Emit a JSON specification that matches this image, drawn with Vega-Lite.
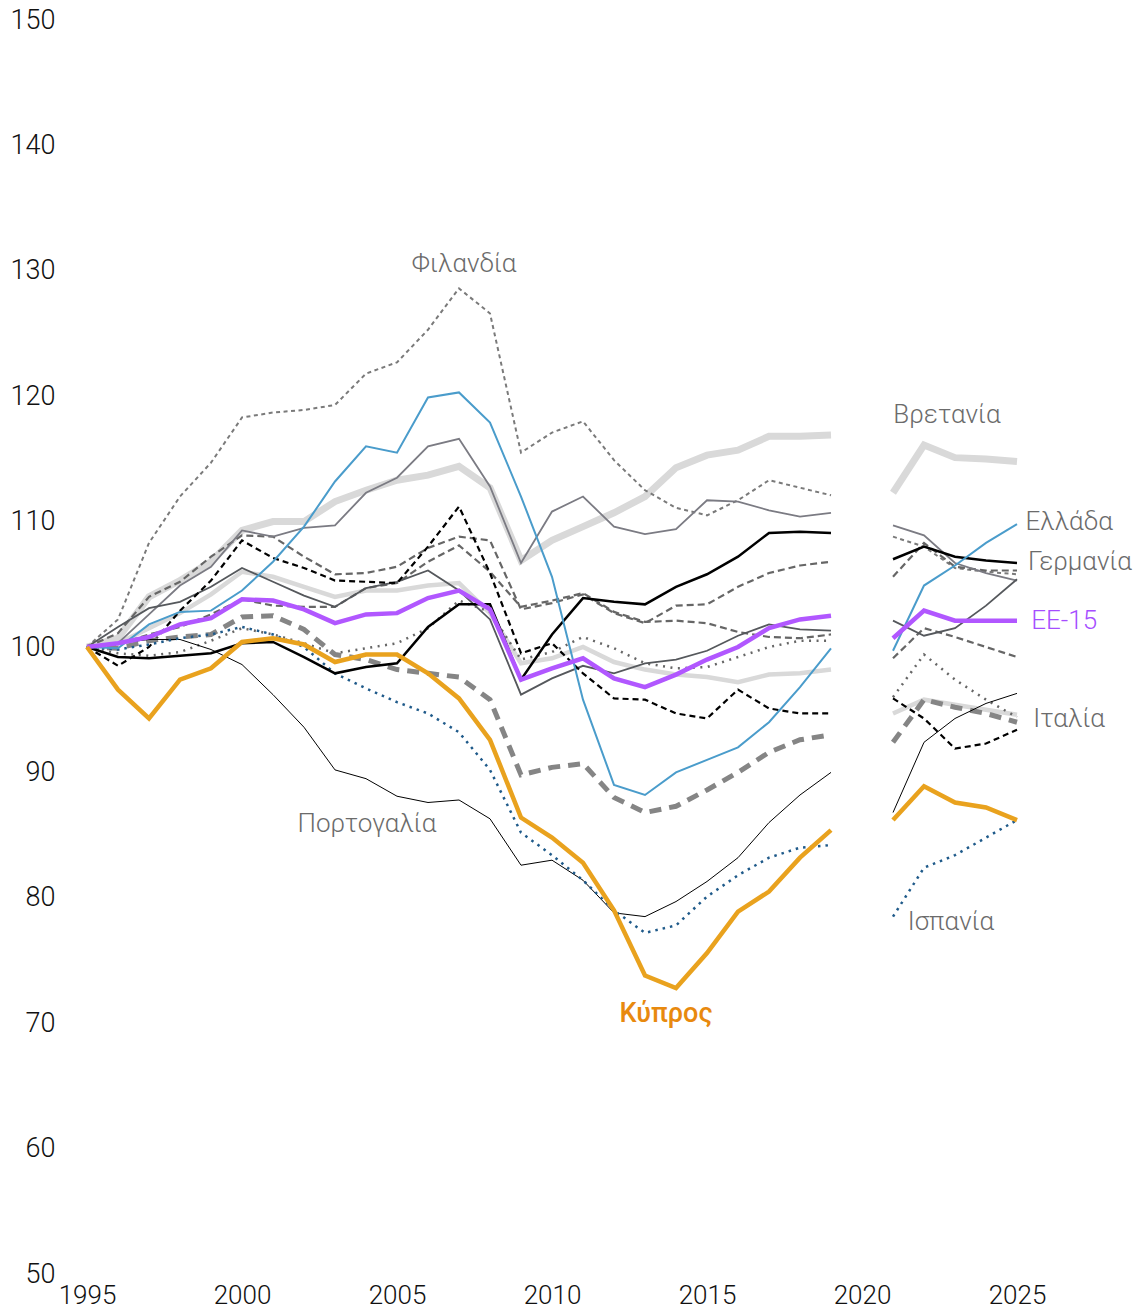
{
"$schema":"https://vega.github.io/schema/vega-lite/v6.json",
"autosize":{"type":"none"},
"padding":{"left":87,"top":20,"right":0,"bottom":38},
"width":1054,"height":1254,
"background":"white",
"config":{"view":{"stroke":null},"axis":{"domain":false,"ticks":false,"tickSize":0,"grid":false,"labelFont":"Roboto","labelFontWeight":300,"labelFontSize":27,"labelColor":"#111","labelFlush":false,"labelOverlap":false,"title":null}},
"datasets":{
"lines":[
{"c":"CY","p":1,"t":1995,"v":100},{"c":"CY","p":1,"t":1996,"v":96.6},{"c":"CY","p":1,"t":1997,"v":94.3},{"c":"CY","p":1,"t":1998,"v":97.4},{"c":"CY","p":1,"t":1999,"v":98.3},{"c":"CY","p":1,"t":2000,"v":100.4},{"c":"CY","p":1,"t":2001,"v":100.7},{"c":"CY","p":1,"t":2002,"v":100.2},{"c":"CY","p":1,"t":2003,"v":98.8},{"c":"CY","p":1,"t":2004,"v":99.4},{"c":"CY","p":1,"t":2005,"v":99.4},{"c":"CY","p":1,"t":2006,"v":97.9},{"c":"CY","p":1,"t":2007,"v":95.9},{"c":"CY","p":1,"t":2008,"v":92.6},{"c":"CY","p":1,"t":2009,"v":86.4},{"c":"CY","p":1,"t":2010,"v":84.8},{"c":"CY","p":1,"t":2011,"v":82.8},{"c":"CY","p":1,"t":2012,"v":79.0},{"c":"CY","p":1,"t":2013,"v":73.8},{"c":"CY","p":1,"t":2014,"v":72.8},{"c":"CY","p":1,"t":2015,"v":75.6},{"c":"CY","p":1,"t":2016,"v":78.9},{"c":"CY","p":1,"t":2017,"v":80.5},{"c":"CY","p":1,"t":2018,"v":83.2},{"c":"CY","p":1,"t":2019,"v":85.4},
{"c":"CY","p":2,"t":2021,"v":86.2},{"c":"CY","p":2,"t":2022,"v":88.9},{"c":"CY","p":2,"t":2023,"v":87.6},{"c":"CY","p":2,"t":2024,"v":87.2},{"c":"CY","p":2,"t":2025,"v":86.2},
{"c":"EU","p":1,"t":1995,"v":100},{"c":"EU","p":1,"t":1996,"v":100.3},{"c":"EU","p":1,"t":1997,"v":100.8},{"c":"EU","p":1,"t":1998,"v":101.8},{"c":"EU","p":1,"t":1999,"v":102.3},{"c":"EU","p":1,"t":2000,"v":103.8},{"c":"EU","p":1,"t":2001,"v":103.7},{"c":"EU","p":1,"t":2002,"v":103.0},{"c":"EU","p":1,"t":2003,"v":101.9},{"c":"EU","p":1,"t":2004,"v":102.6},{"c":"EU","p":1,"t":2005,"v":102.7},{"c":"EU","p":1,"t":2006,"v":103.9},{"c":"EU","p":1,"t":2007,"v":104.5},{"c":"EU","p":1,"t":2008,"v":103.0},{"c":"EU","p":1,"t":2009,"v":97.4},{"c":"EU","p":1,"t":2010,"v":98.3},{"c":"EU","p":1,"t":2011,"v":99.1},{"c":"EU","p":1,"t":2012,"v":97.5},{"c":"EU","p":1,"t":2013,"v":96.8},{"c":"EU","p":1,"t":2014,"v":97.8},{"c":"EU","p":1,"t":2015,"v":99.0},{"c":"EU","p":1,"t":2016,"v":100.0},{"c":"EU","p":1,"t":2017,"v":101.5},{"c":"EU","p":1,"t":2018,"v":102.2},{"c":"EU","p":1,"t":2019,"v":102.5},
{"c":"EU","p":2,"t":2021,"v":100.7},{"c":"EU","p":2,"t":2022,"v":102.9},{"c":"EU","p":2,"t":2023,"v":102.1},{"c":"EU","p":2,"t":2024,"v":102.1},{"c":"EU","p":2,"t":2025,"v":102.1},
{"c":"UK","p":1,"t":1995,"v":100},{"c":"UK","p":1,"t":1996,"v":100.7},{"c":"UK","p":1,"t":1997,"v":104.0},{"c":"UK","p":1,"t":1998,"v":105.3},{"c":"UK","p":1,"t":1999,"v":106.8},{"c":"UK","p":1,"t":2000,"v":109.3},{"c":"UK","p":1,"t":2001,"v":110.0},{"c":"UK","p":1,"t":2002,"v":110.0},{"c":"UK","p":1,"t":2003,"v":111.6},{"c":"UK","p":1,"t":2004,"v":112.5},{"c":"UK","p":1,"t":2005,"v":113.3},{"c":"UK","p":1,"t":2006,"v":113.7},{"c":"UK","p":1,"t":2007,"v":114.4},{"c":"UK","p":1,"t":2008,"v":112.7},{"c":"UK","p":1,"t":2009,"v":106.9},{"c":"UK","p":1,"t":2010,"v":108.5},{"c":"UK","p":1,"t":2011,"v":109.6},{"c":"UK","p":1,"t":2012,"v":110.7},{"c":"UK","p":1,"t":2013,"v":112.0},{"c":"UK","p":1,"t":2014,"v":114.3},{"c":"UK","p":1,"t":2015,"v":115.3},{"c":"UK","p":1,"t":2016,"v":115.7},{"c":"UK","p":1,"t":2017,"v":116.8},{"c":"UK","p":1,"t":2018,"v":116.8},{"c":"UK","p":1,"t":2019,"v":116.9},
{"c":"UK","p":2,"t":2021,"v":112.3},{"c":"UK","p":2,"t":2022,"v":116.1},{"c":"UK","p":2,"t":2023,"v":115.1},{"c":"UK","p":2,"t":2024,"v":115.0},{"c":"UK","p":2,"t":2025,"v":114.8},
{"c":"GR","p":1,"t":1995,"v":100},{"c":"GR","p":1,"t":1996,"v":99.9},{"c":"GR","p":1,"t":1997,"v":101.8},{"c":"GR","p":1,"t":1998,"v":102.8},{"c":"GR","p":1,"t":1999,"v":102.9},{"c":"GR","p":1,"t":2000,"v":104.5},{"c":"GR","p":1,"t":2001,"v":106.8},{"c":"GR","p":1,"t":2002,"v":109.6},{"c":"GR","p":1,"t":2003,"v":113.2},{"c":"GR","p":1,"t":2004,"v":116.0},{"c":"GR","p":1,"t":2005,"v":115.5},{"c":"GR","p":1,"t":2006,"v":119.9},{"c":"GR","p":1,"t":2007,"v":120.3},{"c":"GR","p":1,"t":2008,"v":117.9},{"c":"GR","p":1,"t":2009,"v":112.0},{"c":"GR","p":1,"t":2010,"v":105.6},{"c":"GR","p":1,"t":2011,"v":95.8},{"c":"GR","p":1,"t":2012,"v":89.0},{"c":"GR","p":1,"t":2013,"v":88.2},{"c":"GR","p":1,"t":2014,"v":90.0},{"c":"GR","p":1,"t":2015,"v":91.0},{"c":"GR","p":1,"t":2016,"v":92.0},{"c":"GR","p":1,"t":2017,"v":94.0},{"c":"GR","p":1,"t":2018,"v":96.8},{"c":"GR","p":1,"t":2019,"v":99.9},
{"c":"GR","p":2,"t":2021,"v":99.7},{"c":"GR","p":2,"t":2022,"v":104.9},{"c":"GR","p":2,"t":2023,"v":106.5},{"c":"GR","p":2,"t":2024,"v":108.3},{"c":"GR","p":2,"t":2025,"v":109.8},
{"c":"DE","p":1,"t":1995,"v":100},{"c":"DE","p":1,"t":1996,"v":99.2},{"c":"DE","p":1,"t":1997,"v":99.1},{"c":"DE","p":1,"t":1998,"v":99.3},{"c":"DE","p":1,"t":1999,"v":99.5},{"c":"DE","p":1,"t":2000,"v":100.3},{"c":"DE","p":1,"t":2001,"v":100.4},{"c":"DE","p":1,"t":2002,"v":99.2},{"c":"DE","p":1,"t":2003,"v":97.9},{"c":"DE","p":1,"t":2004,"v":98.4},{"c":"DE","p":1,"t":2005,"v":98.7},{"c":"DE","p":1,"t":2006,"v":101.6},{"c":"DE","p":1,"t":2007,"v":103.4},{"c":"DE","p":1,"t":2008,"v":103.4},{"c":"DE","p":1,"t":2009,"v":97.4},{"c":"DE","p":1,"t":2010,"v":101.0},{"c":"DE","p":1,"t":2011,"v":103.9},{"c":"DE","p":1,"t":2012,"v":103.6},{"c":"DE","p":1,"t":2013,"v":103.4},{"c":"DE","p":1,"t":2014,"v":104.8},{"c":"DE","p":1,"t":2015,"v":105.8},{"c":"DE","p":1,"t":2016,"v":107.2},{"c":"DE","p":1,"t":2017,"v":109.1},{"c":"DE","p":1,"t":2018,"v":109.2},{"c":"DE","p":1,"t":2019,"v":109.1},
{"c":"DE","p":2,"t":2021,"v":107.0},{"c":"DE","p":2,"t":2022,"v":108.0},{"c":"DE","p":2,"t":2023,"v":107.2},{"c":"DE","p":2,"t":2024,"v":106.9},{"c":"DE","p":2,"t":2025,"v":106.7},
{"c":"FI","p":1,"t":1995,"v":100},{"c":"FI","p":1,"t":1996,"v":102.2},{"c":"FI","p":1,"t":1997,"v":108.3},{"c":"FI","p":1,"t":1998,"v":112.0},{"c":"FI","p":1,"t":1999,"v":114.7},{"c":"FI","p":1,"t":2000,"v":118.3},{"c":"FI","p":1,"t":2001,"v":118.7},{"c":"FI","p":1,"t":2002,"v":118.9},{"c":"FI","p":1,"t":2003,"v":119.3},{"c":"FI","p":1,"t":2004,"v":121.8},{"c":"FI","p":1,"t":2005,"v":122.7},{"c":"FI","p":1,"t":2006,"v":125.3},{"c":"FI","p":1,"t":2007,"v":128.6},{"c":"FI","p":1,"t":2008,"v":126.6},{"c":"FI","p":1,"t":2009,"v":115.5},{"c":"FI","p":1,"t":2010,"v":117.1},{"c":"FI","p":1,"t":2011,"v":118.0},{"c":"FI","p":1,"t":2012,"v":114.9},{"c":"FI","p":1,"t":2013,"v":112.5},{"c":"FI","p":1,"t":2014,"v":111.1},{"c":"FI","p":1,"t":2015,"v":110.5},{"c":"FI","p":1,"t":2016,"v":111.7},{"c":"FI","p":1,"t":2017,"v":113.3},{"c":"FI","p":1,"t":2018,"v":112.7},{"c":"FI","p":1,"t":2019,"v":112.1},
{"c":"FI","p":2,"t":2021,"v":108.8},{"c":"FI","p":2,"t":2022,"v":108.0},{"c":"FI","p":2,"t":2023,"v":106.3},{"c":"FI","p":2,"t":2024,"v":106.0},{"c":"FI","p":2,"t":2025,"v":105.8},
{"c":"PT","p":1,"t":1995,"v":100},{"c":"PT","p":1,"t":1996,"v":100.3},{"c":"PT","p":1,"t":1997,"v":100.6},{"c":"PT","p":1,"t":1998,"v":100.6},{"c":"PT","p":1,"t":1999,"v":99.8},{"c":"PT","p":1,"t":2000,"v":98.6},{"c":"PT","p":1,"t":2001,"v":96.2},{"c":"PT","p":1,"t":2002,"v":93.6},{"c":"PT","p":1,"t":2003,"v":90.2},{"c":"PT","p":1,"t":2004,"v":89.5},{"c":"PT","p":1,"t":2005,"v":88.1},{"c":"PT","p":1,"t":2006,"v":87.6},{"c":"PT","p":1,"t":2007,"v":87.8},{"c":"PT","p":1,"t":2008,"v":86.3},{"c":"PT","p":1,"t":2009,"v":82.6},{"c":"PT","p":1,"t":2010,"v":83.0},{"c":"PT","p":1,"t":2011,"v":81.4},{"c":"PT","p":1,"t":2012,"v":78.8},{"c":"PT","p":1,"t":2013,"v":78.5},{"c":"PT","p":1,"t":2014,"v":79.7},{"c":"PT","p":1,"t":2015,"v":81.3},{"c":"PT","p":1,"t":2016,"v":83.2},{"c":"PT","p":1,"t":2017,"v":86.0},{"c":"PT","p":1,"t":2018,"v":88.2},{"c":"PT","p":1,"t":2019,"v":90.0},
{"c":"PT","p":2,"t":2021,"v":86.8},{"c":"PT","p":2,"t":2022,"v":92.4},{"c":"PT","p":2,"t":2023,"v":94.3},{"c":"PT","p":2,"t":2024,"v":95.5},{"c":"PT","p":2,"t":2025,"v":96.3},
{"c":"ES","p":1,"t":1995,"v":100},{"c":"ES","p":1,"t":1996,"v":99.8},{"c":"ES","p":1,"t":1997,"v":100.2},{"c":"ES","p":1,"t":1998,"v":100.7},{"c":"ES","p":1,"t":1999,"v":101.0},{"c":"ES","p":1,"t":2000,"v":101.6},{"c":"ES","p":1,"t":2001,"v":101.0},{"c":"ES","p":1,"t":2002,"v":100.0},{"c":"ES","p":1,"t":2003,"v":97.9},{"c":"ES","p":1,"t":2004,"v":96.7},{"c":"ES","p":1,"t":2005,"v":95.6},{"c":"ES","p":1,"t":2006,"v":94.7},{"c":"ES","p":1,"t":2007,"v":93.2},{"c":"ES","p":1,"t":2008,"v":90.2},{"c":"ES","p":1,"t":2009,"v":85.2},{"c":"ES","p":1,"t":2010,"v":83.4},{"c":"ES","p":1,"t":2011,"v":81.4},{"c":"ES","p":1,"t":2012,"v":79.0},{"c":"ES","p":1,"t":2013,"v":77.2},{"c":"ES","p":1,"t":2014,"v":77.8},{"c":"ES","p":1,"t":2015,"v":80.1},{"c":"ES","p":1,"t":2016,"v":81.8},{"c":"ES","p":1,"t":2017,"v":83.2},{"c":"ES","p":1,"t":2018,"v":84.0},{"c":"ES","p":1,"t":2019,"v":84.2},
{"c":"ES","p":2,"t":2021,"v":78.5},{"c":"ES","p":2,"t":2022,"v":82.4},{"c":"ES","p":2,"t":2023,"v":83.4},{"c":"ES","p":2,"t":2024,"v":84.8},{"c":"ES","p":2,"t":2025,"v":86.2},
{"c":"IT","p":1,"t":1995,"v":100},{"c":"IT","p":1,"t":1996,"v":99.9},{"c":"IT","p":1,"t":1997,"v":100.5},{"c":"IT","p":1,"t":1998,"v":100.8},{"c":"IT","p":1,"t":1999,"v":101.0},{"c":"IT","p":1,"t":2000,"v":102.4},{"c":"IT","p":1,"t":2001,"v":102.5},{"c":"IT","p":1,"t":2002,"v":101.4},{"c":"IT","p":1,"t":2003,"v":99.4},{"c":"IT","p":1,"t":2004,"v":99.0},{"c":"IT","p":1,"t":2005,"v":98.2},{"c":"IT","p":1,"t":2006,"v":97.9},{"c":"IT","p":1,"t":2007,"v":97.6},{"c":"IT","p":1,"t":2008,"v":95.8},{"c":"IT","p":1,"t":2009,"v":89.8},{"c":"IT","p":1,"t":2010,"v":90.4},{"c":"IT","p":1,"t":2011,"v":90.7},{"c":"IT","p":1,"t":2012,"v":88.0},{"c":"IT","p":1,"t":2013,"v":86.8},{"c":"IT","p":1,"t":2014,"v":87.3},{"c":"IT","p":1,"t":2015,"v":88.6},{"c":"IT","p":1,"t":2016,"v":90.0},{"c":"IT","p":1,"t":2017,"v":91.6},{"c":"IT","p":1,"t":2018,"v":92.6},{"c":"IT","p":1,"t":2019,"v":93.0},
{"c":"IT","p":2,"t":2021,"v":92.4},{"c":"IT","p":2,"t":2022,"v":95.8},{"c":"IT","p":2,"t":2023,"v":95.2},{"c":"IT","p":2,"t":2024,"v":94.7},{"c":"IT","p":2,"t":2025,"v":94.0},
{"c":"SE","p":1,"t":1995,"v":100},{"c":"SE","p":1,"t":1996,"v":100.3},{"c":"SE","p":1,"t":1997,"v":102.6},{"c":"SE","p":1,"t":1998,"v":104.9},{"c":"SE","p":1,"t":1999,"v":106.4},{"c":"SE","p":1,"t":2000,"v":109.3},{"c":"SE","p":1,"t":2001,"v":108.8},{"c":"SE","p":1,"t":2002,"v":109.5},{"c":"SE","p":1,"t":2003,"v":109.7},{"c":"SE","p":1,"t":2004,"v":112.3},{"c":"SE","p":1,"t":2005,"v":113.5},{"c":"SE","p":1,"t":2006,"v":116.0},{"c":"SE","p":1,"t":2007,"v":116.6},{"c":"SE","p":1,"t":2008,"v":112.8},{"c":"SE","p":1,"t":2009,"v":106.7},{"c":"SE","p":1,"t":2010,"v":110.8},{"c":"SE","p":1,"t":2011,"v":112.0},{"c":"SE","p":1,"t":2012,"v":109.6},{"c":"SE","p":1,"t":2013,"v":109.0},{"c":"SE","p":1,"t":2014,"v":109.4},{"c":"SE","p":1,"t":2015,"v":111.7},{"c":"SE","p":1,"t":2016,"v":111.6},{"c":"SE","p":1,"t":2017,"v":110.9},{"c":"SE","p":1,"t":2018,"v":110.4},{"c":"SE","p":1,"t":2019,"v":110.7},
{"c":"SE","p":2,"t":2021,"v":109.7},{"c":"SE","p":2,"t":2022,"v":108.9},{"c":"SE","p":2,"t":2023,"v":106.7},{"c":"SE","p":2,"t":2024,"v":105.9},{"c":"SE","p":2,"t":2025,"v":105.3},
{"c":"AT","p":1,"t":1995,"v":100},{"c":"AT","p":1,"t":1996,"v":101.6},{"c":"AT","p":1,"t":1997,"v":103.1},{"c":"AT","p":1,"t":1998,"v":103.6},{"c":"AT","p":1,"t":1999,"v":104.8},{"c":"AT","p":1,"t":2000,"v":106.3},{"c":"AT","p":1,"t":2001,"v":105.2},{"c":"AT","p":1,"t":2002,"v":104.1},{"c":"AT","p":1,"t":2003,"v":103.2},{"c":"AT","p":1,"t":2004,"v":104.7},{"c":"AT","p":1,"t":2005,"v":105.2},{"c":"AT","p":1,"t":2006,"v":106.1},{"c":"AT","p":1,"t":2007,"v":104.5},{"c":"AT","p":1,"t":2008,"v":102.2},{"c":"AT","p":1,"t":2009,"v":96.2},{"c":"AT","p":1,"t":2010,"v":97.5},{"c":"AT","p":1,"t":2011,"v":98.5},{"c":"AT","p":1,"t":2012,"v":97.9},{"c":"AT","p":1,"t":2013,"v":98.7},{"c":"AT","p":1,"t":2014,"v":99.0},{"c":"AT","p":1,"t":2015,"v":99.7},{"c":"AT","p":1,"t":2016,"v":100.9},{"c":"AT","p":1,"t":2017,"v":101.8},{"c":"AT","p":1,"t":2018,"v":101.4},{"c":"AT","p":1,"t":2019,"v":101.3},
{"c":"AT","p":2,"t":2021,"v":102.1},{"c":"AT","p":2,"t":2022,"v":100.9},{"c":"AT","p":2,"t":2023,"v":101.5},{"c":"AT","p":2,"t":2024,"v":103.3},{"c":"AT","p":2,"t":2025,"v":105.4},
{"c":"FR","p":1,"t":1995,"v":100},{"c":"FR","p":1,"t":1996,"v":100.3},{"c":"FR","p":1,"t":1997,"v":101.5},{"c":"FR","p":1,"t":1998,"v":102.7},{"c":"FR","p":1,"t":1999,"v":104.2},{"c":"FR","p":1,"t":2000,"v":106.0},{"c":"FR","p":1,"t":2001,"v":105.6},{"c":"FR","p":1,"t":2002,"v":104.8},{"c":"FR","p":1,"t":2003,"v":104.0},{"c":"FR","p":1,"t":2004,"v":104.5},{"c":"FR","p":1,"t":2005,"v":104.5},{"c":"FR","p":1,"t":2006,"v":104.9},{"c":"FR","p":1,"t":2007,"v":105.1},{"c":"FR","p":1,"t":2008,"v":102.7},{"c":"FR","p":1,"t":2009,"v":98.7},{"c":"FR","p":1,"t":2010,"v":99.1},{"c":"FR","p":1,"t":2011,"v":100.0},{"c":"FR","p":1,"t":2012,"v":98.8},{"c":"FR","p":1,"t":2013,"v":98.2},{"c":"FR","p":1,"t":2014,"v":97.8},{"c":"FR","p":1,"t":2015,"v":97.6},{"c":"FR","p":1,"t":2016,"v":97.2},{"c":"FR","p":1,"t":2017,"v":97.8},{"c":"FR","p":1,"t":2018,"v":97.9},{"c":"FR","p":1,"t":2019,"v":98.2},
{"c":"FR","p":2,"t":2021,"v":94.7},{"c":"FR","p":2,"t":2022,"v":95.8},{"c":"FR","p":2,"t":2023,"v":95.4},{"c":"FR","p":2,"t":2024,"v":95.0},{"c":"FR","p":2,"t":2025,"v":94.6},
{"c":"BE","p":1,"t":1995,"v":100},{"c":"BE","p":1,"t":1996,"v":98.5},{"c":"BE","p":1,"t":1997,"v":100.0},{"c":"BE","p":1,"t":1998,"v":102.9},{"c":"BE","p":1,"t":1999,"v":105.3},{"c":"BE","p":1,"t":2000,"v":108.5},{"c":"BE","p":1,"t":2001,"v":107.1},{"c":"BE","p":1,"t":2002,"v":106.3},{"c":"BE","p":1,"t":2003,"v":105.3},{"c":"BE","p":1,"t":2004,"v":105.2},{"c":"BE","p":1,"t":2005,"v":105.1},{"c":"BE","p":1,"t":2006,"v":108.0},{"c":"BE","p":1,"t":2007,"v":111.2},{"c":"BE","p":1,"t":2008,"v":105.9},{"c":"BE","p":1,"t":2009,"v":99.5},{"c":"BE","p":1,"t":2010,"v":100.3},{"c":"BE","p":1,"t":2011,"v":97.9},{"c":"BE","p":1,"t":2012,"v":95.9},{"c":"BE","p":1,"t":2013,"v":95.8},{"c":"BE","p":1,"t":2014,"v":94.7},{"c":"BE","p":1,"t":2015,"v":94.3},{"c":"BE","p":1,"t":2016,"v":96.6},{"c":"BE","p":1,"t":2017,"v":95.1},{"c":"BE","p":1,"t":2018,"v":94.7},{"c":"BE","p":1,"t":2019,"v":94.7},
{"c":"BE","p":2,"t":2021,"v":95.9},{"c":"BE","p":2,"t":2022,"v":94.3},{"c":"BE","p":2,"t":2023,"v":91.9},{"c":"BE","p":2,"t":2024,"v":92.3},{"c":"BE","p":2,"t":2025,"v":93.4},
{"c":"DK","p":1,"t":1995,"v":100},{"c":"DK","p":1,"t":1996,"v":101.1},{"c":"DK","p":1,"t":1997,"v":104.0},{"c":"DK","p":1,"t":1998,"v":105.2},{"c":"DK","p":1,"t":1999,"v":107.2},{"c":"DK","p":1,"t":2000,"v":108.9},{"c":"DK","p":1,"t":2001,"v":108.8},{"c":"DK","p":1,"t":2002,"v":107.2},{"c":"DK","p":1,"t":2003,"v":105.8},{"c":"DK","p":1,"t":2004,"v":105.9},{"c":"DK","p":1,"t":2005,"v":106.4},{"c":"DK","p":1,"t":2006,"v":107.9},{"c":"DK","p":1,"t":2007,"v":108.8},{"c":"DK","p":1,"t":2008,"v":108.5},{"c":"DK","p":1,"t":2009,"v":103.0},{"c":"DK","p":1,"t":2010,"v":103.5},{"c":"DK","p":1,"t":2011,"v":104.2},{"c":"DK","p":1,"t":2012,"v":102.7},{"c":"DK","p":1,"t":2013,"v":101.9},{"c":"DK","p":1,"t":2014,"v":103.3},{"c":"DK","p":1,"t":2015,"v":103.4},{"c":"DK","p":1,"t":2016,"v":104.8},{"c":"DK","p":1,"t":2017,"v":105.9},{"c":"DK","p":1,"t":2018,"v":106.5},{"c":"DK","p":1,"t":2019,"v":106.8},
{"c":"DK","p":2,"t":2021,"v":105.6},{"c":"DK","p":2,"t":2022,"v":108.3},{"c":"DK","p":2,"t":2023,"v":106.4},{"c":"DK","p":2,"t":2024,"v":106.1},{"c":"DK","p":2,"t":2025,"v":106.1},
{"c":"NL","p":1,"t":1995,"v":100},{"c":"NL","p":1,"t":1996,"v":100.2},{"c":"NL","p":1,"t":1997,"v":101.0},{"c":"NL","p":1,"t":1998,"v":101.6},{"c":"NL","p":1,"t":1999,"v":102.6},{"c":"NL","p":1,"t":2000,"v":103.8},{"c":"NL","p":1,"t":2001,"v":103.3},{"c":"NL","p":1,"t":2002,"v":103.2},{"c":"NL","p":1,"t":2003,"v":103.2},{"c":"NL","p":1,"t":2004,"v":104.7},{"c":"NL","p":1,"t":2005,"v":105.1},{"c":"NL","p":1,"t":2006,"v":106.8},{"c":"NL","p":1,"t":2007,"v":108.1},{"c":"NL","p":1,"t":2008,"v":106.0},{"c":"NL","p":1,"t":2009,"v":103.2},{"c":"NL","p":1,"t":2010,"v":103.7},{"c":"NL","p":1,"t":2011,"v":104.3},{"c":"NL","p":1,"t":2012,"v":102.8},{"c":"NL","p":1,"t":2013,"v":102.0},{"c":"NL","p":1,"t":2014,"v":102.1},{"c":"NL","p":1,"t":2015,"v":101.9},{"c":"NL","p":1,"t":2016,"v":101.2},{"c":"NL","p":1,"t":2017,"v":100.8},{"c":"NL","p":1,"t":2018,"v":100.7},{"c":"NL","p":1,"t":2019,"v":101.0},
{"c":"NL","p":2,"t":2021,"v":99.1},{"c":"NL","p":2,"t":2022,"v":101.5},{"c":"NL","p":2,"t":2023,"v":100.8},{"c":"NL","p":2,"t":2024,"v":100.0},{"c":"NL","p":2,"t":2025,"v":99.2},
{"c":"IE","p":1,"t":1995,"v":100},{"c":"IE","p":1,"t":1996,"v":99.5},{"c":"IE","p":1,"t":1997,"v":99.3},{"c":"IE","p":1,"t":1998,"v":99.6},{"c":"IE","p":1,"t":1999,"v":100.5},{"c":"IE","p":1,"t":2000,"v":101.5},{"c":"IE","p":1,"t":2001,"v":101.0},{"c":"IE","p":1,"t":2002,"v":100.3},{"c":"IE","p":1,"t":2003,"v":99.5},{"c":"IE","p":1,"t":2004,"v":99.9},{"c":"IE","p":1,"t":2005,"v":100.3},{"c":"IE","p":1,"t":2006,"v":101.5},{"c":"IE","p":1,"t":2007,"v":103.7},{"c":"IE","p":1,"t":2008,"v":102.8},{"c":"IE","p":1,"t":2009,"v":99.0},{"c":"IE","p":1,"t":2010,"v":99.6},{"c":"IE","p":1,"t":2011,"v":100.8},{"c":"IE","p":1,"t":2012,"v":99.9},{"c":"IE","p":1,"t":2013,"v":98.7},{"c":"IE","p":1,"t":2014,"v":98.3},{"c":"IE","p":1,"t":2015,"v":98.4},{"c":"IE","p":1,"t":2016,"v":99.2},{"c":"IE","p":1,"t":2017,"v":100.0},{"c":"IE","p":1,"t":2018,"v":100.5},{"c":"IE","p":1,"t":2019,"v":100.5},
{"c":"IE","p":2,"t":2021,"v":96.0},{"c":"IE","p":2,"t":2022,"v":99.4},{"c":"IE","p":2,"t":2023,"v":97.4},{"c":"IE","p":2,"t":2024,"v":95.8},{"c":"IE","p":2,"t":2025,"v":94.4}
],
"labels":[
{"txt":"Φιλανδία","t":2007.16,"v":130.55},
{"txt":"Βρετανία","t":2022.74,"v":118.5},
{"txt":"Ελλάδα","t":2026.68,"v":109.97},
{"txt":"Γερμανία","t":2027.03,"v":106.78},
{"txt":"ΕΕ-15","t":2026.52,"v":102.07},
{"txt":"Ιταλία","t":2026.68,"v":94.26},
{"txt":"Πορτογαλία","t":2004.03,"v":85.89},
{"txt":"Ισπανία","t":2022.87,"v":78.07},
{"txt":"Κύπρος","t":2013.68,"v":70.73}
]
},
"layer":[
{
"data":{"name":"lines"},
"encoding":{
"x":{"field":"t","type":"quantitative","scale":{"domain":[1995,2029],"nice":false,"zero":false},"axis":{"values":[1995,2000,2005,2010,2015,2020,2025],"format":"d","labelPadding":8,"labelFontSize":26}},
"y":{"field":"v","type":"quantitative","scale":{"domain":[50,150],"nice":false,"zero":false},"axis":{"values":[50,60,70,80,90,100,110,120,130,140,150],"labelPadding":32}},
"detail":{"field":"p","type":"nominal"}
},
"layer":[
{"transform":[{"filter":"datum.c==='UK'"}],"mark":{"type":"line","color":"#d9d9d9","strokeWidth":7}},
{"transform":[{"filter":"datum.c==='FR'"}],"mark":{"type":"line","color":"#d9d9d9","strokeWidth":4.5}},
{"transform":[{"filter":"datum.c==='FI'"}],"mark":{"type":"line","color":"#7a7a7a","strokeWidth":2,"strokeDash":[4,3.5]}},
{"transform":[{"filter":"datum.c==='DK'"}],"mark":{"type":"line","color":"#666666","strokeWidth":2.2,"strokeDash":[7,4]}},
{"transform":[{"filter":"datum.c==='NL'"}],"mark":{"type":"line","color":"#666666","strokeWidth":2.2,"strokeDash":[7,4]}},
{"transform":[{"filter":"datum.c==='IE'"}],"mark":{"type":"line","color":"#666666","strokeWidth":2.5,"strokeDash":[2,5.5]}},
{"transform":[{"filter":"datum.c==='SE'"}],"mark":{"type":"line","color":"#7b7b83","strokeWidth":1.8}},
{"transform":[{"filter":"datum.c==='AT'"}],"mark":{"type":"line","color":"#55585c","strokeWidth":1.8}},
{"transform":[{"filter":"datum.c==='BE'"}],"mark":{"type":"line","color":"#000000","strokeWidth":2.2,"strokeDash":[6,4]}},
{"transform":[{"filter":"datum.c==='IT'"}],"mark":{"type":"line","color":"#858585","strokeWidth":5,"strokeDash":[12,8]}},
{"transform":[{"filter":"datum.c==='PT'"}],"mark":{"type":"line","color":"#000000","strokeWidth":1}},
{"transform":[{"filter":"datum.c==='ES'"}],"mark":{"type":"line","color":"#1f5a8a","strokeWidth":2.5,"strokeDash":[2.5,5]}},
{"transform":[{"filter":"datum.c==='DE'"}],"mark":{"type":"line","color":"#000000","strokeWidth":2.5}},
{"transform":[{"filter":"datum.c==='GR'"}],"mark":{"type":"line","color":"#4a9ccb","strokeWidth":2}},
{"transform":[{"filter":"datum.c==='EU'"}],"mark":{"type":"line","color":"#b157ff","strokeWidth":4.5}},
{"transform":[{"filter":"datum.c==='CY'"}],"mark":{"type":"line","color":"#e9a21e","strokeWidth":4.5}}
]
},
{
"data":{"name":"labels"},
"transform":[{"filter":"datum.txt!=='Κύπρος'"}],
"mark":{"type":"text","font":"Roboto","fontWeight":300,"fontSize":26,"align":"center","baseline":"middle"},
"encoding":{
"x":{"field":"t","type":"quantitative"},
"y":{"field":"v","type":"quantitative"},
"text":{"field":"txt"},
"color":{"field":"txt","type":"nominal","legend":null,"scale":{"domain":["Φιλανδία","Βρετανία","Ελλάδα","Γερμανία","ΕΕ-15","Ιταλία","Πορτογαλία","Ισπανία"],"range":["#6b6b6b","#6b6b6b","#6b6b6b","#6b6b6b","#a64dff","#6b6b6b","#6b6b6b","#6b6b6b"]}}
}
},
{
"data":{"name":"labels"},
"transform":[{"filter":"datum.txt==='Κύπρος'"}],
"mark":{"type":"text","font":"Roboto","fontWeight":500,"fontSize":27,"align":"center","baseline":"middle","color":"#e8890e"},
"encoding":{
"x":{"field":"t","type":"quantitative"},
"y":{"field":"v","type":"quantitative"},
"text":{"field":"txt"}
}
}
]
}
